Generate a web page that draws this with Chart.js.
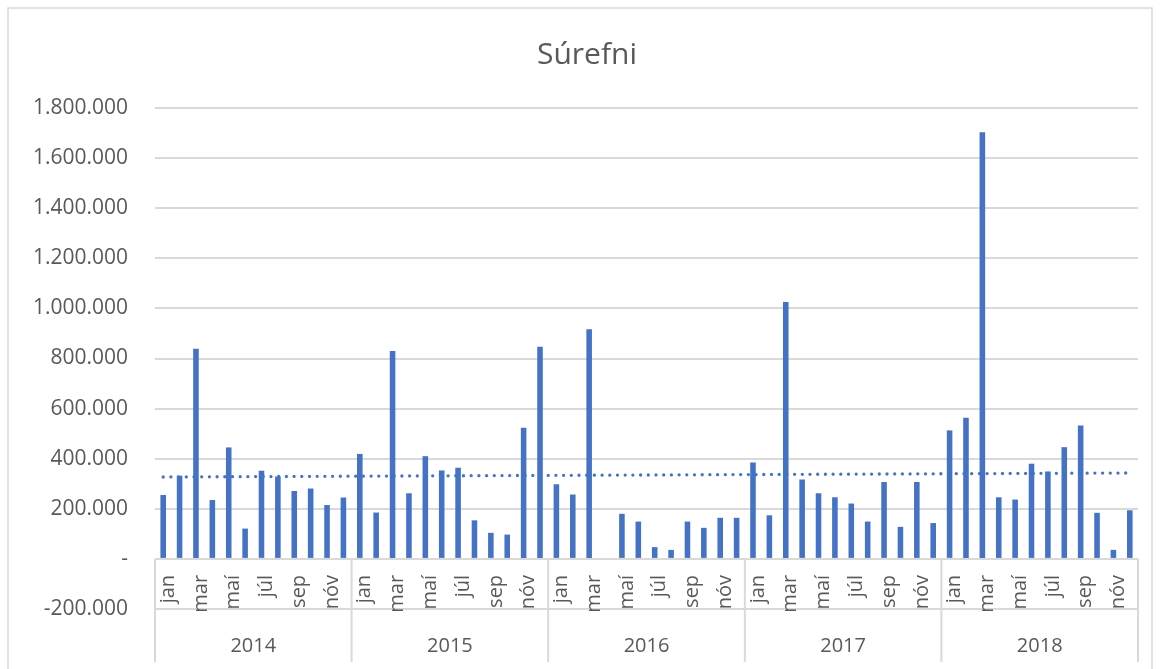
<!DOCTYPE html>
<html>
<head>
<meta charset="utf-8">
<script src="https://cdn.jsdelivr.net/npm/chart.js@4"></script>
<style>
  html, body { margin: 0; padding: 0; background: #fff; }
  #wrap { position: relative; width: 1160px; height: 669px; }
</style>
</head>
<body>
<div id="wrap"><canvas id="c" width="1160" height="669"></canvas></div>
<script>
const title = 'Súrefni';
const years = ['2014', '2015', '2016', '2017', '2018'];
const months = ['jan', 'feb', 'mar', 'apr', 'maí', 'jún', 'júl', 'ágú', 'sep', 'okt', 'nóv', 'des'];
const v2014 = [255000, 332000, 839000, 235000, 445000, 121000, 352000, 329000, 271000, 281000, 215000, 245000];
const v2015 = [419000, 185000, 830000, 262000, 410000, 353000, 364000, 154000, 104000, 97000, 524000, 847000];
const v2016 = [298000, 257000, 917000, null, 180000, 149000, 47000, 36000, 149000, 124000, 164000, 164000];
const v2017 = [385000, 174000, 1026000, 317000, 262000, 246000, 221000, 149000, 307000, 128000, 307000, 143000];
const v2018 = [513000, 563000, 1703000, 246000, 237000, 380000, 349000, 446000, 533000, 184000, 36000, 194000];
const trendEnds = [327000, 343000];
const yTicks = { min: -200000, max: 1800000, step: 200000 };

const labels = [];
years.forEach(y => months.forEach(m => labels.push(m + ' ' + y)));
const values = [].concat(v2014, v2015, v2016, v2017, v2018);
const trend = values.map(() => null);
trend[0] = trendEnds[0];
trend[trend.length - 1] = trendEnds[1];

const TEXT = '#595959';
const GRID = '#d9d9d9';
const FONT = "'Open Sans', 'Noto Sans', sans-serif";

function fmt(v) {
  if (v === 0) return '-';
  const neg = v < 0;
  const s = Math.abs(v).toString().replace(/\B(?=(\d{3})+(?!\d))/g, '.');
  return (neg ? '-' : '') + s;
}

const categoryAxisPlugin = {
  id: 'categoryAxis',
  afterDraw(chart) {
    const ctx = chart.ctx;
    const x = chart.scales.x;
    const y = chart.scales.y;
    const area = chart.chartArea;
    const y0 = y.getPixelForValue(0);
    const half = (x.getPixelForValue(1) - x.getPixelForValue(0)) / 2;
    ctx.save();
    // title
    ctx.fillStyle = TEXT;
    ctx.font = '30px ' + FONT;
    ctx.textAlign = 'center';
    ctx.textBaseline = 'middle';
    ctx.fillText(title, 587, 55);
    // month labels (every other)
    ctx.font = '20px ' + FONT;
    ctx.textAlign = 'right';
    ctx.textBaseline = 'middle';
    labels.forEach((lab, i) => {
      if (i % 2 !== 0) return;
      const px = x.getPixelForValue(i);
      ctx.save();
      ctx.translate(px + 5, y0 + 16);
      ctx.rotate(-Math.PI / 2);
      ctx.fillText(months[i % 12], 0, 0);
      ctx.restore();
    });
    // separators
    ctx.strokeStyle = GRID;
    ctx.lineWidth = 2;
    for (let k = 0; k <= years.length; k++) {
      let bx;
      if (k === 0) bx = area.left;
      else if (k === years.length) bx = area.right;
      else bx = x.getPixelForValue(k * 12) - half;
      ctx.beginPath();
      ctx.moveTo(bx, y0);
      ctx.lineTo(bx, 662);
      ctx.stroke();
    }
    // year labels
    ctx.font = '20px ' + FONT;
    ctx.textAlign = 'center';
    ctx.textBaseline = 'middle';
    years.forEach((yr, k) => {
      const a = x.getPixelForValue(k * 12) - half;
      const b = x.getPixelForValue(k * 12 + 11) + half;
      ctx.fillText(yr, (a + b) / 2, 646);
    });
    // outer frame
    ctx.strokeStyle = GRID;
    ctx.lineWidth = 1.5;
    ctx.beginPath();
    ctx.moveTo(8, 680);
    ctx.lineTo(8, 8);
    ctx.lineTo(1152, 8);
    ctx.lineTo(1152, 680);
    ctx.stroke();
    ctx.restore();
  }
};

new Chart(document.getElementById('c'), {
  data: {
    labels: labels,
    datasets: [
      {
        type: 'line',
        data: trend,
        spanGaps: true,
        borderColor: '#4472C4',
        borderWidth: 3.3,
        borderDash: [0, 7.7],
        borderCapStyle: 'round',
        pointRadius: 0,
        fill: false,
        order: 0
      },
      {
        type: 'bar',
        data: values,
        backgroundColor: '#4472C4',
        borderWidth: 0,
        barPercentage: 0.34,
        categoryPercentage: 1,
        order: 1
      }
    ]
  },
  options: {
    responsive: false,
    animation: false,
    layout: { padding: { left: 0, right: 22, top: 108, bottom: 60 } },
    plugins: {
      legend: { display: false },
      tooltip: { enabled: false },
      title: { display: false }
    },
    scales: {
      x: {
        display: false,
        offset: true
      },
      y: {
        min: yTicks.min,
        max: yTicks.max,
        afterFit(scale) { scale.width = 155; },
        border: { display: false },
        grid: { color: GRID, lineWidth: 2, drawTicks: false },
        ticks: {
          stepSize: yTicks.step,
          padding: 27,
          color: TEXT,
          font: { family: FONT, size: 21 },
          callback: (v) => fmt(v)
        }
      }
    }
  },
  plugins: [categoryAxisPlugin]
});
</script>
</body>
</html>
